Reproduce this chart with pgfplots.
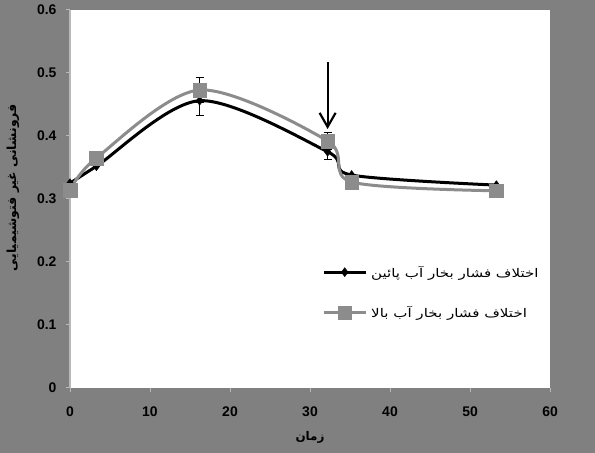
\documentclass[border=0pt]{standalone}
\usepackage{fontspec}
\setmainfont{Liberation Sans}
\newfontfamily\arabicfont[Script=Arabic]{DejaVu Sans}
\newfontfamily\arabicwide[Script=Arabic, FakeStretch=1.26]{DejaVu Sans}
\usepackage{pgfplots}
\pgfplotsset{compat=1.18}
\usetikzlibrary{arrows.meta}
\TeXXeTstate=1
\definecolor{bggray}{RGB}{128,128,128}
\definecolor{sergray}{RGB}{140,140,140}
\definecolor{axgray}{RGB}{185,185,185}

\begin{document}
\begin{tikzpicture}[x=1bp,y=1bp]
\fill[bggray] (-70,-65) rectangle (525,388);
\begin{axis}[
    at={(0,0)}, anchor=south west,
    scale only axis,
    width=480bp, height=378bp,
    xmin=0, xmax=60, ymin=0, ymax=0.6,
    xtick={0,10,20,30,40,50,60},
    ytick={0,0.1,0.2,0.3,0.4,0.5,0.6},
    axis background/.style={fill=white},
    axis x line*=bottom, axis y line*=left,
    x axis line style={draw=none},
    y axis line style={draw=axgray, line width=2.5bp},
    tick align=outside,
    major tick length=4bp,
    tick style={draw=axgray, line width=1bp},
    /pgf/number format/assume math mode=true,
    ticklabel style={font=\bfseries\fontsize{14}{16}\selectfont, text=black},
    yticklabel style={xshift=-6bp},
    xticklabel style={yshift=-11bp},
    every axis y label/.style={at={(axis description cs:-0.119,0.53)}, rotate=90, anchor=center},
    every axis x label/.style={at={(axis description cs:0.5,0)}, yshift=-49bp, anchor=center},
    ylabel={\arabicfont\bfseries\fontsize{12.5}{14}\selectfont\beginR فرونشانی غیر فتوشیمیایی\endR},
    xlabel={\arabicfont\bfseries\fontsize{12}{14}\selectfont\beginR زمان\endR},
    legend style={draw=none, fill=none, at={(rel axis cs:0.525,0.2526)}, anchor=west,
        row sep=24bp, column sep=2bp, inner sep=0pt, nodes={inner sep=2bp},
        font=\arabicwide\fontsize{12}{14}\selectfont},
    legend cell align=left,
    legend image code/.code={\draw[mark repeat=2, mark phase=2] plot coordinates {(0bp,0bp) (21bp,0bp) (42bp,0bp)};},
]

% error bars (drawn under the series)
\addplot[draw=none, forget plot, error bars/.cd, y dir=both, y explicit,
    error bar style={draw=black, solid, line width=0.8bp},
    error mark options={rotate=90, mark size=4bp, draw=black, line width=0.8bp}]
    coordinates {(16.2,0.456) +- (0,0.024) (32.2,0.375) +- (0,0.012)};
\addplot[draw=none, forget plot, error bars/.cd, y dir=both, y explicit,
    error bar style={draw=black, solid, line width=0.8bp},
    error mark options={rotate=90, mark size=4bp, draw=black, line width=0.8bp}]
    coordinates {(16.2,0.473) +- (0,0.020) (32.2,0.392) +- (0,0.014)};

% low vapour pressure deficit
\addplot[black, line width=3bp, smooth, tension=0.5, mark=diamond*, mark size=4.5bp,
    mark options={solid, fill=black, line width=0.4bp}]
    coordinates {(0,0.325) (3.3,0.352) (16.2,0.456) (32.2,0.375) (35.2,0.338) (53.3,0.322)};

% high vapour pressure deficit
\addplot[sergray, line width=3bp, smooth, tension=0.5, mark=square*, mark size=6.8bp,
    mark options={solid, fill=sergray, line width=0.4bp}]
    coordinates {(0,0.314) (3.3,0.365) (16.2,0.473) (32.2,0.392) (35.2,0.327) (53.3,0.313)};

\draw[-{Straight Barb[length=14bp, width=16bp]}, black, line width=2.2bp]
    (axis cs:32.2,0.517) -- (axis cs:32.2,0.411);

\legend{\beginR اختلاف فشار بخار آب پائین\endR, \beginR اختلاف فشار بخار آب بالا\endR}
\end{axis}
\pgfresetboundingbox
\path (-70,-65) rectangle (525,388);
\end{tikzpicture}
\end{document}
